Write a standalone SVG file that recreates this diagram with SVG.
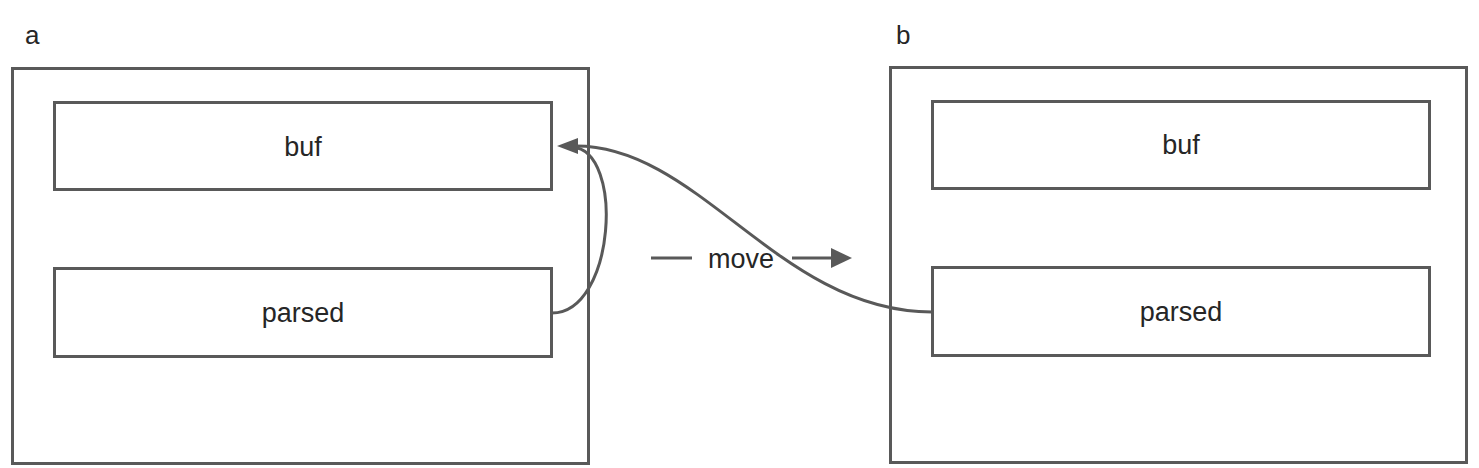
<svg xmlns="http://www.w3.org/2000/svg" width="1479" height="468" viewBox="0 0 1479 468">
<style>
.box{fill:#ffffff;stroke:#595959;stroke-width:3}
.lbl{font-family:"Liberation Sans",Arial,sans-serif;font-size:27px;fill:#262626;text-anchor:middle}
.title{font-family:"Liberation Sans",Arial,sans-serif;font-size:26px;fill:#262626}
.conn{fill:none;stroke:#595959;stroke-width:3}
</style>
<defs>
<marker id="ah" markerWidth="22" markerHeight="18" refX="2" refY="9" orient="auto" markerUnits="userSpaceOnUse">
<polygon points="0,1 21,9 0,17" fill="#595959"/>
</marker>
</defs>
<rect width="1479" height="468" fill="#ffffff"/>
<g id="container-a">
<text class="title" x="25" y="44">a</text>
<rect class="box" x="12.5" y="68.5" width="576" height="395"/>
</g>
<g id="a-buf">
<rect class="box" x="54.5" y="102.5" width="497" height="87"/>
<text class="lbl" x="303" y="156">buf</text>
</g>
<g id="a-parsed">
<rect class="box" x="54.5" y="268.5" width="497" height="88"/>
<text class="lbl" x="303" y="322">parsed</text>
</g>
<g id="container-b">
<text class="title" x="896" y="44">b</text>
<rect class="box" x="890.5" y="67.5" width="576" height="395"/>
</g>
<g id="b-buf">
<rect class="box" x="932.5" y="101.5" width="497" height="87"/>
<text class="lbl" x="1181" y="154">buf</text>
</g>
<g id="b-parsed">
<rect class="box" x="932.5" y="267.5" width="497" height="88"/>
<text class="lbl" x="1181" y="321">parsed</text>
</g>
<g id="connectors">
<path class="conn" d="M552,313 C615,313 625,150 572,147"/>
<path class="conn" d="M932,312 C780,312 700,146 576,146" marker-end="url(#ah)"/>
<line class="conn" x1="651" y1="258" x2="692" y2="258"/>
<line class="conn" x1="792" y1="258" x2="833" y2="258"/>
<polygon points="831,248 852,258 831,268" fill="#595959"/>
<text class="lbl" x="741" y="268">move</text>
</g>
</svg>
